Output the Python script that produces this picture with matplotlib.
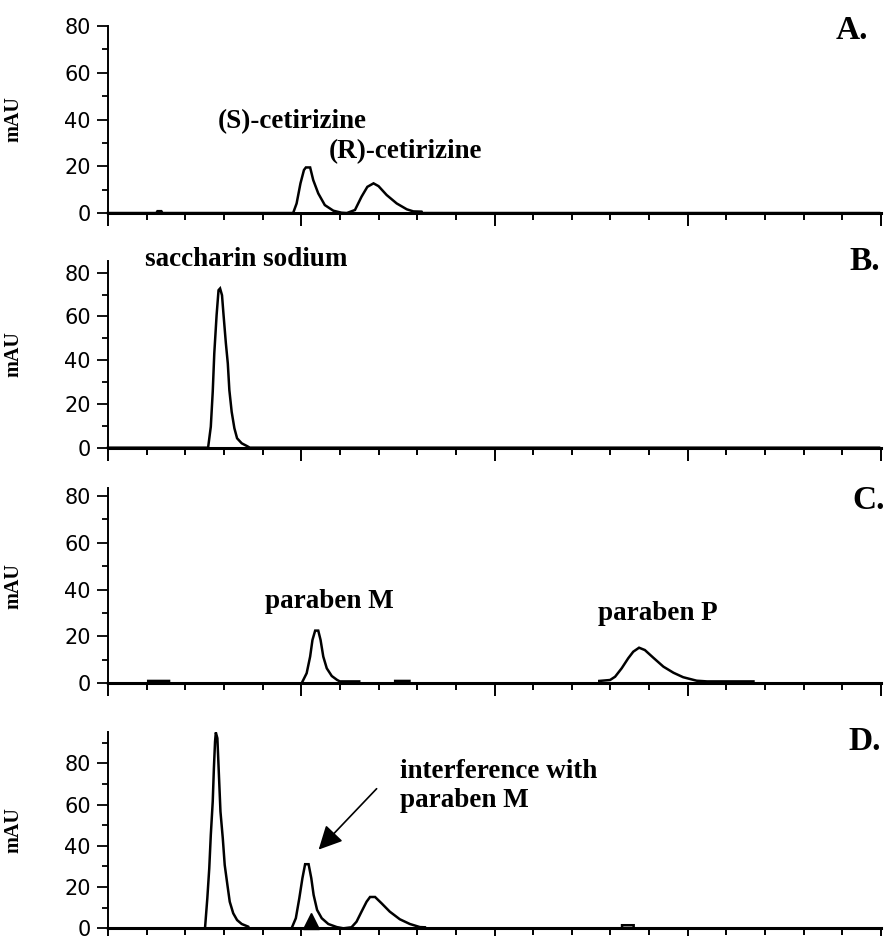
import numpy as np
import matplotlib.pyplot as plt
from matplotlib.ticker import MultipleLocator

# chromatogram traces (time in min, signal in mAU)
xA = [0, 1.25, 1.28, 1.38, 1.41, 4.79, 4.88, 4.98, 5.07, 5.12, 5.23, 5.31, 5.44, 5.61, 5.83, 6.04, 6.18,
      6.39, 6.56, 6.71, 6.87, 7.0, 7.21, 7.47, 7.73, 7.9, 8.11, 8.12, 19.95]
yA = [0, 0, 0.8, 0.8, 0, 0, 4.1, 12.7, 18.4, 19.5, 19.5, 14.1, 8.4, 3.4, 1.0, 0.15, 0,
      1.3, 7.0, 11.2, 12.7, 11.5, 7.7, 4.1, 1.6, 0.7, 0.6, 0, 0]

xB = [0, 2.59, 2.66, 2.71, 2.75, 2.81, 2.86, 2.90, 2.95, 2.99, 3.05, 3.10, 3.14, 3.20, 3.27, 3.34,
      3.46, 3.59, 3.67, 19.95]
yB = [0, 0, 9.6, 25.6, 43.1, 60.6, 72.0, 72.8, 69.7, 60.6, 47.7, 38.5, 26.3, 16.4, 8.9, 4.3,
      2.0, 0.8, 0, 0]

xC = [0, 1.04, 1.04, 1.58, 1.58, 5.01, 5.14, 5.23, 5.29, 5.36, 5.44, 5.50, 5.57, 5.66, 5.79, 5.93,
      6.0, 6.5, 6.5, 7.43, 7.43, 7.8, 7.8, 12.71, 12.71, 12.99, 13.12, 13.29, 13.46, 13.59, 13.74,
      13.89, 14.11, 14.37, 14.63, 14.88, 15.23, 15.5, 16.7, 16.7, 19.95]
yC = [0, 0, 1.0, 1.0, 0, 0, 4.3, 11.4, 18.5, 22.5, 22.5, 18.5, 11.4, 6.4, 3.1, 1.4,
      0.8, 0.8, 0, 0, 1.0, 1.0, 0, 0, 1.0, 1.4, 2.8, 6.4, 10.7, 13.5, 15.2,
      14.2, 10.9, 7.1, 4.5, 2.6, 1.1, 0.8, 0.8, 0, 0]

xD = [0, 2.51, 2.57, 2.62, 2.66, 2.71, 2.74, 2.77, 2.79, 2.83, 2.87, 2.91, 2.97, 3.02, 3.09, 3.15,
      3.24, 3.34, 3.46, 3.63, 3.65, 4.75, 4.86, 4.95, 5.03, 5.10, 5.19, 5.26, 5.32, 5.41, 5.53,
      5.70, 5.92, 6.09, 6.30, 6.43, 6.56, 6.69, 6.78, 6.91, 7.08, 7.29, 7.55, 7.81, 8.07, 8.2, 8.2,
      13.3, 13.3, 13.6, 13.6, 19.95]
yD = [0, 0, 14.6, 29.1, 45.3, 61.5, 77.7, 90.6, 95.0, 92.2, 74.4, 56.6, 43.7, 30.7, 21.0, 12.9,
      7.3, 4.0, 2.1, 0.8, 0, 0, 4.9, 14.6, 24.3, 31.1, 31.1, 24.3, 16.2, 8.9, 4.9,
      2.1, 0.6, 0, 0.5, 3.2, 8.1, 12.9, 15.2, 15.2, 12.1, 8.1, 4.4, 2.1, 0.6, 0.5, 0,
      0, 1.5, 1.5, 0, 0]

panel_x = [xA, xB, xC, xD]
panel_y = [yA, yB, yC, yD]
panel_labels = ['A.', 'B.', 'C.', 'D.']
panel_ytop = [80, 85.5, 83.3, 95.2]

# figure-fraction boxes (left, bottom, width, height)
boxes = [[0.1212, 0.7724, 0.8676, 0.1998],
         [0.1212, 0.5217, 0.8676, 0.1998],
         [0.1212, 0.2700, 0.8676, 0.2083],
         [0.1212, 0.0082, 0.8676, 0.2097]]
label_pos = [(19.66, 78.2), (19.97, 84.9), (20.1, 78.3), (20.0, 90.6)]

bold_serif = dict(family='Liberation Serif', weight='bold')
note_size = 19.5

fig = plt.figure(figsize=(8.91, 9.36), dpi=100)
axes = []
for i in range(4):
    ax = fig.add_axes(boxes[i])
    ax.plot(panel_x[i], panel_y[i], color='black', lw=1.8, clip_on=False, solid_joinstyle='miter')
    ax.set_xlim(0, 20)
    ax.set_ylim(0, panel_ytop[i])
    ax.spines['top'].set_visible(False)
    ax.spines['right'].set_visible(False)
    ax.spines['bottom'].set_linewidth(2.2)
    ax.spines['left'].set_linewidth(1.4)
    ax.xaxis.set_major_locator(MultipleLocator(5))
    ax.xaxis.set_minor_locator(MultipleLocator(1))
    ax.yaxis.set_major_locator(MultipleLocator(20))
    ax.yaxis.set_minor_locator(MultipleLocator(10))
    ax.tick_params(axis='x', which='major', length=9.5, width=1.4, labelbottom=False)
    ax.tick_params(axis='x', which='minor', length=5, width=1.4)
    ax.tick_params(axis='y', which='major', length=8, width=1.3, pad=4.5, labelsize=15)
    ax.tick_params(axis='y', which='minor', length=4.5, width=1.3)
    ax.set_ylabel('mAU', fontsize=14.5, **bold_serif)
    ax.yaxis.set_label_coords(-0.109, 0.5)
    lx, ly = label_pos[i]
    ax.text(lx, ly, panel_labels[i], ha='right', va='center', fontsize=24, **bold_serif)
    axes.append(ax)

axA, axB, axC, axD = axes
axA.text(2.85, 39, '(S)-cetirizine', ha='left', va='center', fontsize=note_size, **bold_serif)
axA.text(5.7, 26.2, '(R)-cetirizine', ha='left', va='center', fontsize=note_size, **bold_serif)
axB.text(0.96, 86, 'saccharin sodium', ha='left', va='center', fontsize=note_size, **bold_serif)
axC.text(4.06, 34.9, 'paraben M', ha='left', va='center', fontsize=note_size, **bold_serif)
axC.text(12.69, 29.9, 'paraben P', ha='left', va='center', fontsize=note_size, **bold_serif)
axD.text(7.55, 69, 'interference with\nparaben M', ha='left', va='center', fontsize=note_size,
         linespacing=1.2, **bold_serif)
axD.annotate('', xy=(5.4, 37.2), xytext=(7.0, 68.7),
             arrowprops=dict(arrowstyle='-|>', mutation_scale=36, lw=1.2, color='black'))
axD.plot([5.24], [3.4], marker='^', color='black', markersize=12, clip_on=False)

fig.savefig('out.png', dpi=100)
